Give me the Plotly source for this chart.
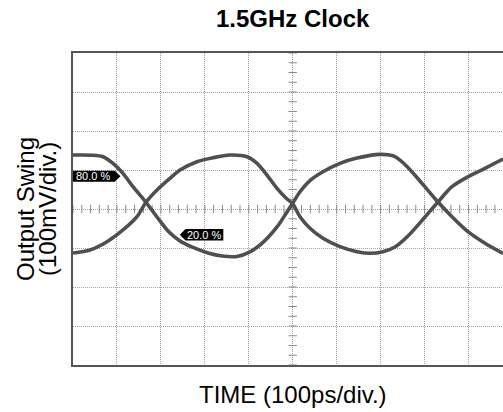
import numpy as np
import plotly.graph_objects as go

# Eye diagram traces, time in ps (100 ps/div), voltage in mV (100 mV/div)
trace_a_t = [0, 43.2, 68.3, 91.0, 113.8, 136.5, 166.1, 191.1, 216.2, 243.5, 273.0, 307.2, 339.0,
             373.1, 402.7, 432.3, 464.2, 486.9, 499.4, 516.5, 539.2, 568.8, 607.5, 646.2, 698.5,
             728.1, 744.0, 762.2, 794.1, 830.5, 862.3, 898.7, 937.4, 978.4]
trace_a_v = [138.3, 138, 134, 117, 91.4, 57.1, 17.2, -20.5, -56.4, -82, -98.6, -112.7, -120.4,
             -121.7, -110.1, -85.8, -46.1, -7.7, 14.1, 44.3, 73, 95.5, 117.1, 130.6, 140.1,
             136.5, 125.5, 106.3, 65.8, 17.9, -19.7, -58.1, -87.9, -114]

trace_b_t = [0, 38.7, 77.4, 113.8, 145.6, 166.1, 191.1, 220.7, 243.5, 282.1, 318.5, 357.2, 395.9,
             418.7, 441.4, 464.2, 486.9, 499.4, 516.5, 539.2, 568.8, 607.5, 646.2, 675.8, 705.3,
             732.6, 762.2, 800.9, 830.5, 862.3, 898.7, 937.4, 978.4]
trace_b_v = [-112.7, -105, -83.8, -53.8, -19.7, 17.2, 48.7, 78.6, 99.9, 121.2, 131.4, 138.3, 134,
             117, 87.1, 53, 25.6, 14.1, -19.7, -49.4, -75.1, -96.6, -109.4, -113.5, -109.4,
             -97.3, -69.2, -20.5, 17.9, 57.1, 82.7, 104.3, 128.1]

x_range = [0, 978.4]
y_range = [-400, 400]
x_div = 100
y_div = 100
title_text = "1.5GHz Clock"
x_title = "TIME (100ps/div.)"
y_title_1 = "Output Swing"
y_title_2 = "(100mV/div.)"
label_hi = "80.0 %"
label_lo = "20.0 %"

trace_color = "#4f4f4f"
font_family = "Liberation Sans, Arial, sans-serif"

fig = go.Figure()

# center-line minor ticks (scope graticule)
hx = np.arange(0, x_range[1], x_div / 5)
fig.add_trace(go.Scatter(x=hx, y=np.zeros_like(hx), mode="markers",
                         marker=dict(symbol="line-ns", size=6, line=dict(width=1, color="#8a8a8a")),
                         hoverinfo="skip"))
vy = np.arange(y_range[0], y_range[1] + 1, y_div / 4)
fig.add_trace(go.Scatter(x=np.full_like(vy, 500.0), y=vy, mode="markers",
                         marker=dict(symbol="line-ew", size=6, line=dict(width=1, color="#8a8a8a")),
                         hoverinfo="skip"))

for tt, vv in ((trace_a_t, trace_a_v), (trace_b_t, trace_b_v)):
    fig.add_trace(go.Scatter(x=tt, y=vv, mode="lines",
                             line=dict(color=trace_color, width=3.6, shape="spline", smoothing=0.8),
                             hoverinfo="skip"))

# marker flags
hi_y = 84
lo_y = -66
fig.add_shape(type="path", xref="x", yref="y",
              path=f"M 0,{hi_y+14} L 95,{hi_y+14} L 108,{hi_y} L 95,{hi_y-14} L 0,{hi_y-14} Z",
              fillcolor="black", line=dict(width=0), layer="above")
fig.add_annotation(x=2, y=hi_y, xref="x", yref="y", text=label_hi, showarrow=False,
                   xanchor="left", yanchor="middle",
                   font=dict(family=font_family, size=11, color="white"))
fig.add_shape(type="path", xref="x", yref="y",
              path=f"M 243,{lo_y} L 256,{lo_y+15} L 342,{lo_y+15} L 342,{lo_y-15} L 256,{lo_y-15} Z",
              fillcolor="black", line=dict(width=0), layer="above")
fig.add_annotation(x=299, y=lo_y, xref="x", yref="y", text=label_lo, showarrow=False,
                   xanchor="center", yanchor="middle",
                   font=dict(family=font_family, size=11, color="white"))

# titles
fig.add_annotation(x=0.5105, y=1.109, xref="paper", yref="paper", text=f"<b>{title_text}</b>",
                   showarrow=False, xanchor="center", yanchor="middle",
                   font=dict(family=font_family, size=24, color="black"))
fig.add_annotation(x=0.5105, y=-0.096, xref="paper", yref="paper", text=x_title,
                   showarrow=False, xanchor="center", yanchor="middle",
                   font=dict(family=font_family, size=24, color="black"))
fig.add_annotation(x=-0.1116, y=0.5, xref="paper", yref="paper", text=y_title_1,
                   showarrow=False, textangle=-90, xanchor="center", yanchor="middle",
                   font=dict(family=font_family, size=24, color="black"))
fig.add_annotation(x=-0.0605, y=0.5, xref="paper", yref="paper", text=y_title_2,
                   showarrow=False, textangle=-90, xanchor="center", yanchor="middle",
                   font=dict(family=font_family, size=24, color="black"))

fig.update_xaxes(range=x_range, dtick=x_div, tick0=0, showgrid=True, gridcolor="#a0a0a0",
                 griddash="1px,1px", gridwidth=1, zeroline=False, showticklabels=False, ticks="",
                 showline=True, linecolor="#555555", linewidth=2, mirror=True, fixedrange=True)
fig.update_yaxes(range=y_range, dtick=y_div, tick0=0, showgrid=True, gridcolor="#a0a0a0",
                 griddash="1px,1px", gridwidth=1, zeroline=False, showticklabels=False, ticks="",
                 showline=True, linecolor="#555555", linewidth=2, mirror=False, fixedrange=True)

fig.update_layout(width=503, height=412, margin=dict(l=73, r=0, t=53, b=47),
                  plot_bgcolor="white", paper_bgcolor="white", showlegend=False,
                  hovermode=False)

fig.write_html("out.html", config={"displayModeBar": False},
               post_script="document.body.style.margin='0';document.body.style.overflow='hidden';")
